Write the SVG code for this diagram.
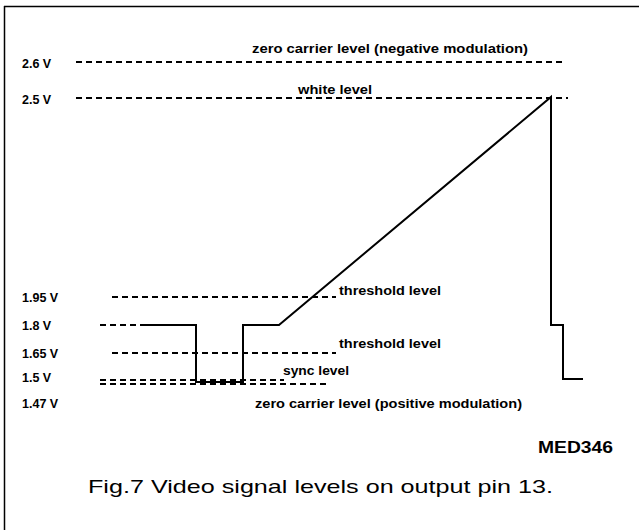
<svg xmlns="http://www.w3.org/2000/svg" width="639" height="530" viewBox="0 0 639 530">
<style>
.lbl{font-family:"Liberation Sans",Arial,sans-serif;font-weight:bold;font-size:12px;fill:#000}
.vl{font-family:"Liberation Sans",Arial,sans-serif;font-weight:bold;font-size:12.5px;fill:#000}
.cap{font-family:"Liberation Sans",Arial,sans-serif;font-size:19px;fill:#000}
.dash{stroke:#000;stroke-width:1.8;stroke-dasharray:6 4;fill:none}
.sig{stroke:#000;stroke-width:2;fill:none;stroke-linejoin:miter}
</style>
<rect width="639" height="530" fill="#fff"/>
<g id="frame">
<line x1="4" y1="6.5" x2="639" y2="6.5" stroke="#000" stroke-width="1.5"/>
<line x1="4.5" y1="6" x2="4.5" y2="530" stroke="#000" stroke-width="1.5"/>
</g>
<g id="axis-labels">
<text class="vl" x="22" y="68">2.6 V</text>
<text class="vl" x="22" y="104">2.5 V</text>
<text class="vl" x="22" y="302">1.95 V</text>
<text class="vl" x="22" y="330">1.8 V</text>
<text class="vl" x="22" y="358">1.65 V</text>
<text class="vl" x="22" y="382">1.5 V</text>
<text class="vl" x="22" y="408">1.47 V</text>
</g>
<g id="connectors">
<line class="dash" x1="76" y1="62" x2="563" y2="62"/>
<line class="dash" x1="76" y1="98" x2="568" y2="98"/>
<line class="dash" x1="112" y1="297" x2="336" y2="297"/>
<line class="dash" x1="100" y1="325" x2="145" y2="325"/>
<line class="dash" x1="112" y1="353" x2="336" y2="353"/>
<line class="dash" x1="100" y1="380" x2="284" y2="380"/>
<line class="dash" x1="100" y1="384" x2="330" y2="384"/>
</g>
<g id="signal">
<polyline class="sig" points="145,325 196,325 196,382 243,382 243,325 279,325 551,97 551,325 563,325 563,379 583,379"/>
</g>
<g id="level-labels">
<text class="lbl" x="252" y="53" textLength="276" lengthAdjust="spacingAndGlyphs">zero carrier level (negative modulation)</text>
<text class="lbl" x="298" y="94" textLength="74" lengthAdjust="spacingAndGlyphs">white level</text>
<text class="lbl" x="339" y="295" textLength="102" lengthAdjust="spacingAndGlyphs">threshold level</text>
<text class="lbl" x="339" y="348" textLength="102" lengthAdjust="spacingAndGlyphs">threshold level</text>
<text class="lbl" x="283" y="375" textLength="66" lengthAdjust="spacingAndGlyphs">sync level</text>
<text class="lbl" x="255" y="408" textLength="267" lengthAdjust="spacingAndGlyphs">zero carrier level (positive modulation)</text>
</g>
<g id="code">
<text x="538" y="453" style="font-family:'Liberation Sans',Arial,sans-serif;font-weight:bold;font-size:16px" textLength="75" lengthAdjust="spacingAndGlyphs">MED346</text>
</g>
<g id="caption">
<text class="cap" x="88" y="493" textLength="465" lengthAdjust="spacingAndGlyphs">Fig.7  Video signal levels on output pin 13.</text>
</g>
</svg>
